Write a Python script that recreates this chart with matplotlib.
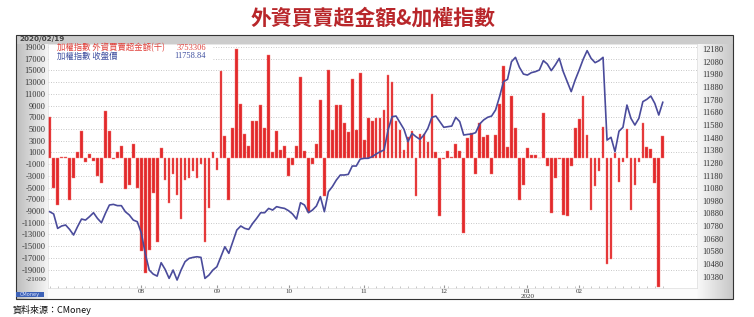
import matplotlib
matplotlib.use('Agg')
import matplotlib.pyplot as plt
import numpy as np
from matplotlib.patches import Rectangle
from matplotlib.transforms import blended_transform_factory

# ---------------- data ----------------
flows = [7100, -5000, -8000, 200, 200, -7100, -3300, 1000, 4700, -700,
         700, -500, -3100, -4300, 8100, 4600, -200, 1100, 2100, -5200,
         -4500, 2400, -5000, -15900, -19600, -15600, -5900, -14300, 1700, -3700,
         -7700, -2700, -6200, -10400, -3700, -3300, -2200, -3300, -900, -14300,
         -8400, 1100, -2000, 14900, 3800, -7200, 5200, 18600, 9200, 4100,
         2100, 6300, 6300, 9100, 5200, 17700, 1000, 4700, 1400, 2100,
         -3100, -1100, 2100, 13800, 1200, -9100, -1000, 2400, 9900, -6500,
         15100, 4800, 9100, 9100, 6000, 4500, 13600, 4800, 14500, 3100,
         6800, 6300, 6900, 6900, 8200, 14200, 13000, 6400, 4800, 1400,
         3700, 4700, -6400, 4100, 4100, 2800, 10900, 1000, -9800, -100,
         1300, 300, 2400, 1300, -12700, 3400, 4300, -2700, 6000, 3700,
         4000, -2700, 3900, 9200, 15700, 2000, 10700, 5100, -7100, -4500,
         1700, 600, 600, 100, 7800, -1400, -9400, -3400, -100, -9700,
         -9800, -1250, 5200, 6700, 10600, 4000, -8900, -4700, -2200, 5300,
         -18100, -17200, 850, -4100, -600, 5000, -8900, -4500, -700, 6100,
         1900, 1600, -4300, -22000, 3753]

index_close = [10894, 10876, 10762, 10781, 10789, 10754, 10710, 10776, 10836, 10828,
               10855, 10886, 10841, 10807, 10881, 10947, 10952, 10942, 10942, 10894,
               10868, 10828, 10815, 10728, 10565, 10433, 10401, 10385, 10491, 10438,
               10367, 10433, 10354, 10433, 10499, 10525, 10533, 10538, 10533, 10367,
               10393, 10433, 10459, 10538, 10617, 10565, 10657, 10749, 10781, 10762,
               10754, 10802, 10842, 10886, 10886, 10920, 10907, 10934, 10926, 10920,
               10902, 10876, 10836, 10965, 10947, 10886, 10907, 10939, 11013, 10894,
               11052, 11092, 11144, 11184, 11184, 11189, 11255, 11255, 11310, 11316,
               11316, 11329, 11350, 11368, 11382, 11540, 11645, 11650, 11598, 11545,
               11448, 11513, 11487, 11466, 11500, 11553, 11640, 11650, 11606, 11561,
               11566, 11571, 11640, 11606, 11500, 11505, 11508, 11519, 11587, 11619,
               11640, 11650, 11698, 11803, 11922, 11940, 12080, 12114, 12035, 11982,
               11974, 11993, 12001, 12014, 12088, 12061, 12009, 12054, 12106, 12001,
               11922, 11843, 11935, 12014, 12098, 12167, 12106, 12072, 12088, 12114,
               11460, 11482, 11368, 11530, 11561, 11737, 11632, 11579, 11632, 11764,
               11782, 11808, 11750, 11658, 11758.84]

month_labels = ['08', '09', '10', '11', '12', '01\n2020', '02']
month_pos = [24, 43, 61, 80, 100, 121, 134]

left_ticks = list(range(-19000, 19001, 2000))
right_ticks = list(range(10380, 12181, 100))

title = '外資買賣超金額&加權指數'
legend_red = '加權指數 外資買賣超金額(千)'
legend_red_val = '3753306'
legend_blue = '加權指數 收盤價'
legend_blue_val = '11758.84'
date_text = '2020/02/19'
source_text = '資料來源：CMoney'

# ---------------- layout ----------------
W, H = 754, 317
def fx(p): return p / W
def fy(p): return 1 - p / H

fig = plt.figure(figsize=(W / 100, H / 100), dpi=100)
fig.patch.set_facecolor('white')

cjk = ['Noto Sans CJK TC', 'DejaVu Sans']

# frame background with gradients
fl, fr, ft, fb = 16, 733, 35, 299
bg = fig.add_axes([fx(fl), fy(fb), (fr - fl) / W, (fb - ft) / H])
cols = np.arange(fl, fr) + 0.5
g = np.full(cols.shape, 0.985)
left_m = cols < 48
g[left_m] = 0.74 + (cols[left_m] - fl) / (48 - fl) * 0.22
right_m = cols > 697
g[right_m] = 0.98 - (cols[right_m] - 697) / (fr - 697) * 0.20
img = np.tile(g, (fb - ft, 1))
img[:9, :] = 0.80
bg.imshow(np.dstack([img, img, img]), aspect='auto', extent=[0, 1, 0, 1],
          interpolation='bilinear')
bg.set_xlim(0, 1); bg.set_ylim(0, 1)
bg.axis('off')

fig.patches.append(Rectangle((fx(fl), fy(fb)), (fr - fl) / W, (fb - ft) / H,
                             transform=fig.transFigure, fill=False,
                             edgecolor='#333333', linewidth=0.8, zorder=5))

# main axes
ax = fig.add_axes([fx(47.5), fy(288), 649.5 / W, 244 / H])
ax.set_facecolor('white')
x = np.arange(1, len(flows) + 1)
ax.set_axisbelow(True)
ax.bar(x, flows, width=0.68, color='#e2292b', edgecolor='#f27a78',
       linewidth=0.3, zorder=2)
ax.set_xlim(0.45, 163.6)
ax.set_ylim(-22130, 19500)
ax.set_yticks(left_ticks)
ax.set_yticklabels([str(v) for v in left_ticks], family='Liberation Serif',
                   fontsize=6, color='#333333')
ax.tick_params(axis='y', length=0, pad=1.5)
ax.yaxis.grid(True, linestyle=(0, (1, 2)), color='#b5b5b5', linewidth=0.6)
for s in ax.spines.values():
    s.set_color('#dddddd'); s.set_linewidth(0.5)

ax.set_xticks(month_pos)
ax.set_xticklabels(month_labels, fontsize=5, family='Liberation Serif',
                   color='#333333', linespacing=0.85)
ax.set_xticks(x[::2], minor=True)
ax.tick_params(axis='x', which='major', length=2.5, direction='in',
               color='#999999', pad=1)
ax.tick_params(axis='x', which='minor', length=1.2, direction='in',
               color='#bbbbbb')

tr = blended_transform_factory(ax.transAxes, ax.transData)
ax.text(-0.0023, -20700, '-21000', transform=tr, ha='right', va='center',
        fontsize=5.3, family='Liberation Serif', color='#333333', clip_on=False)

# legend white box
ax.add_patch(Rectangle((fx(49), fy(62)), (213 - 49) / W, 18 / H,
                       transform=fig.transFigure, facecolor='white',
                       edgecolor='none', zorder=1.5))

ax2 = ax.twinx()
ax2.plot(x, index_close, color='#4a4b9b', linewidth=1.2, zorder=3)
ax2.set_ylim(10291, 12219.5)
ax2.set_yticks(right_ticks)
ax2.set_yticklabels([str(v) for v in right_ticks], family='Liberation Serif',
                    fontsize=6, color='#333333')
ax2.tick_params(axis='y', length=0, pad=3.6)
for s in ax2.spines.values():
    s.set_visible(False)

# legend texts
fig.text(fx(57), fy(47.5), legend_red, family=cjk, fontsize=6,
         color='#e0403a', va='center', ha='left')
fig.text(fx(206), fy(47.5), legend_red_val, family='Liberation Serif',
         fontsize=6, color='#e0403a', va='center', ha='right')
fig.text(fx(57), fy(56), legend_blue, family=cjk, fontsize=6,
         color='#4050a0', va='center', ha='left')
fig.text(fx(206), fy(56), legend_blue_val, family='Liberation Serif',
         fontsize=6, color='#4050a0', va='center', ha='right')

# date
fig.text(fx(19), fy(39.5), date_text, fontsize=5.2, color='#444444',
         family='DejaVu Sans', weight='bold', va='center', ha='left')

# CMoney badge
fig.patches.append(Rectangle((fx(15.5), fy(297)), 28.5 / W, 5.5 / H,
                             transform=fig.transFigure, facecolor='#3d62b8',
                             edgecolor='none', zorder=6))
fig.text(fx(29.5), fy(294.3), 'CMoney', fontsize=3.6, color='#dfe6ff',
         ha='center', va='center', zorder=7)

# title
fig.text(fx(373), fy(18), title, family=cjk, fontsize=15, weight='bold',
         color='#b8262a', ha='center', va='center')

# source
fig.text(fx(13), fy(310), source_text, family=cjk, fontsize=6.5,
         color='#111111', ha='left', va='center')

fig.savefig('out.png', dpi=100)
